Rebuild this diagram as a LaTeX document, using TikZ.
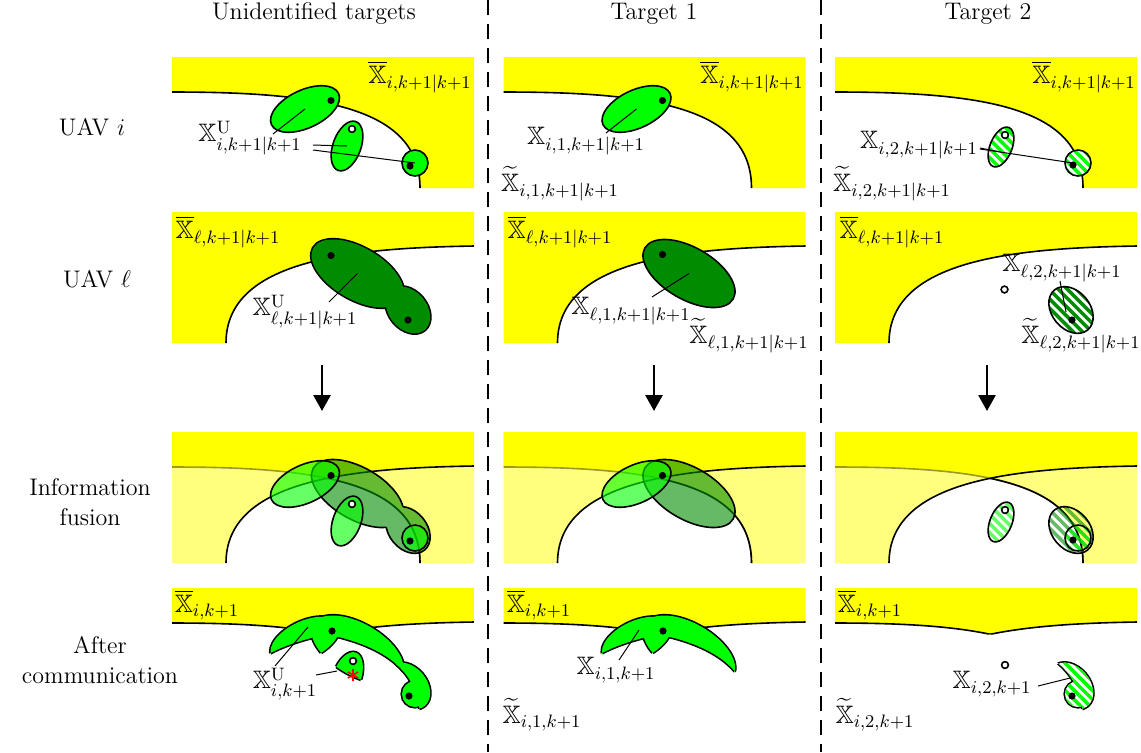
\documentclass[tikz,border=0pt]{standalone}
\usepackage{amssymb}
\usetikzlibrary{arrows.meta}
\definecolor{yel}{RGB}{255,255,0}
\definecolor{lyel}{RGB}{255,255,125}
\definecolor{lg}{RGB}{0,255,0}
\definecolor{dg}{RGB}{0,140,0}
\def\Yone{(0,0) -- (302,0) -- (302,131) -- (248,131) .. controls (248,50) and (148,35) .. (0,35) -- cycle}
\def\Ytwo{(0,0) -- (302,0) -- (302,34) .. controls (178,36) and (54,48) .. (54,131) -- (0,131) -- cycle}
\def\Wtwo{(54,131) .. controls (54,48) and (178,36) .. (302,34) -- (302,140) -- (54,140) -- cycle}
\def\Cone{(0,35) .. controls (148,35) and (248,50) .. (248,131)}
\def\Ctwo{(54,131) .. controls (54,48) and (178,36) .. (302,34)}
\def\Panel{(0,0) rectangle (302,131)}
\def\Big{(-60,-60) rectangle (380,200)}
\def\EOne{(133,52) circle [x radius=37, y radius=19, rotate=25]}
\def\ETwo{(175,89) circle [x radius=26, y radius=14, rotate=70]}
\def\ETwoc{(166,90) circle [x radius=21, y radius=11, rotate=68]}
\def\Circ{(243,106) circle [radius=13]}
\def\BigE{(185.5,61.5) circle [x radius=51, y radius=26, rotate=-30]}
\def\SmallE{(236,98) circle [x radius=26, y radius=19, rotate=-50]}
\newcommand\stripes[3]{\foreach \k in {-14,...,14}{\draw[#3] (#1+\k*9.2-60,#2-60) -- (#1+\k*9.2+60,#2+60);}}
\newcommand\hatchw[4]{\begin{scope}\clip #1;\fill[white] #1;\stripes{#2}{#3}{#4}\end{scope}\draw[ol] #1;}
\newcommand\hatcht[4]{\begin{scope}\clip #1;\stripes{#2}{#3}{#4,opacity=.6}\end{scope}\draw[ol] #1;}
\newcommand\pout[2]{\begin{scope}\clip #2;\draw[ol2] #1;\end{scope}\begin{scope}\clip #1;\draw[ol2] #2;\end{scope}}
\newcommand\pfill[3]{\begin{scope}\clip #1;\fill[#3] #2;\end{scope}}
\newcommand\dotb[2]{\fill (#1,#2) circle [radius=3.6];}
\newcommand\dotw[2]{\draw[line width=0.8pt,fill=white] (#1,#2) circle [radius=3.4];}
\begin{document}
\begin{tikzpicture}[x=0.5pt,y=-0.5pt,
  lab/.style={font=\fontsize{12}{15}\selectfont, inner sep=0pt},
  mlab/.style={font=\fontsize{12.6}{15}\selectfont, inner sep=0pt},
  bd/.style={line width=0.8pt},
  ol/.style={draw=black, line width=0.8pt},
  ol2/.style={draw=black, line width=1.6pt},
  lgf/.style={fill=lg, draw=black, line width=0.8pt},
  dgf/.style={fill=dg, draw=black, line width=0.8pt},
  lgst/.style={draw=lg, line width=1.75pt},
  dgst/.style={draw=dg, line width=1.75pt},
  lead/.style={line width=0.5pt},
  sep/.style={line width=1.3pt, dash pattern=on 7.5pt off 4.5pt},
  arr/.style={line width=1.4pt, -{Triangle[length=8pt,width=8.5pt]}}]
\useasboundingbox (0,0) rectangle (1141,752);
% headers and row labels
\node[lab] (h1) at (314,14) {Unidentified targets};
\node[lab] (h2) at (654,14) {Target 1};
\node[lab] (h3) at (988,14) {Target 2};
\node[lab] (r1) at (92,127) {UAV $i$};
\node[lab] (r2) at (97,279) {UAV $\ell$};
\node[lab, align=center] (r3) at (90,502) {Information\\fusion};
\node[lab, align=center] (r4) at (100,660) {After\\communication};
% separators
\coordinate (s1a) at (488,0); \coordinate (s1b) at (488,752);
\coordinate (s2a) at (821,0); \coordinate (s2b) at (821,752);
\draw[sep] (s1a) -- (s1b);
\draw[sep] (s2a) -- (s2b);
% arrows
\coordinate (a1s) at (322,365); \coordinate (a1e) at (322,411);
\coordinate (a2s) at (654,365); \coordinate (a2e) at (654,411);
\coordinate (a3s) at (987,365); \coordinate (a3e) at (987,411);
\draw[arr] (a1s) -- (a1e);
\draw[arr] (a2s) -- (a2e);
\draw[arr] (a3s) -- (a3e);

% ===== Row 1 =====
\begin{scope}[shift={(172,57)}]
 \fill[yel] \Yone; \draw[bd] \Cone;
 \path[lgf] \EOne; \path[lgf] \ETwo; \path[lgf] \Circ;
 \dotb{159}{43.5} \dotw{180}{72} \dotb{238}{109}
 \coordinate (c11a) at (133,52); \coordinate (c11b) at (175,89); \coordinate (c11c) at (243,106);
\end{scope}
\begin{scope}[shift={(503.5,57)}]
 \fill[yel] \Yone; \draw[bd] \Cone;
 \path[lgf] \EOne;
 \dotb{159}{43.5}
 \coordinate (c12a) at (133,52);
\end{scope}
\begin{scope}[shift={(835,57)}]
 \fill[yel] \Yone; \draw[bd] \Cone;
 \hatchw{\ETwoc}{200}{100}{lgst}
 \hatchw{\Circ}{200}{100}{lgst}
 \dotw{170}{78} \dotb{238}{108}
 \coordinate (c13a) at (166,95); \coordinate (c13b) at (238,106);
\end{scope}
\node[mlab] (o11) at (420,77) {$\overline{\mathbb{X}}_{i,k+1|k+1}$};
\node[mlab] (o12) at (752,77) {$\overline{\mathbb{X}}_{i,k+1|k+1}$};
\node[mlab] (o13) at (1084,77) {$\overline{\mathbb{X}}_{i,k+1|k+1}$};
\node[mlab] (L11) at (250,138) {$\mathbb{X}^{\mathrm{U}}_{i,k+1|k+1}$};
\coordinate (q11a) at (273,134); \coordinate (q11b) at (313,145); \coordinate (q11c) at (313,150);
\draw[lead] (q11a) -- (c11a); \draw[lead] (q11b) -- (c11b); \draw[lead] (q11c) -- (c11c);
\node[mlab] (L12) at (586,141) {$\mathbb{X}_{i,1,k+1|k+1}$};
\coordinate (q12a) at (606,133);
\draw[lead] (q12a) -- (c12a);
\node[mlab] (T12) at (560,184) {$\widetilde{\mathbb{X}}_{i,1,k+1|k+1}$};
\node[mlab] (L13) at (919,145) {$\mathbb{X}_{i,2,k+1|k+1}$};
\coordinate (q13a) at (980,148); \coordinate (q13b) at (980,149);
\draw[lead] (q13a) -- (c13a); \draw[lead] (q13b) -- (c13b);
\node[mlab] (T13) at (892,184) {$\widetilde{\mathbb{X}}_{i,2,k+1|k+1}$};

% ===== Row 2 =====
\begin{scope}[shift={(172,212)}]
 \fill[yel] \Ytwo; \draw[bd] \Ctwo;
 \draw[ol2] \BigE; \draw[ol2] \SmallE;
 \fill[dg] \BigE \SmallE;
 \dotb{159}{43.5} \dotb{236}{108}
 \coordinate (c21a) at (185.5,61.5);
\end{scope}
\begin{scope}[shift={(503.5,212)}]
 \fill[yel] \Ytwo; \draw[bd] \Ctwo;
 \path[dgf] \BigE;
 \dotb{159}{42.5}
 \coordinate (c22a) at (185.5,61.5);
\end{scope}
\begin{scope}[shift={(835,212)}]
 \fill[yel] \Ytwo; \draw[bd] \Ctwo;
 \hatchw{\SmallE}{200}{100}{dgst}
 \dotw{169.5}{77.5} \dotb{237}{108}
 \coordinate (c23a) at (231,100);
\end{scope}
\node[mlab] (o21) at (228,232) {$\overline{\mathbb{X}}_{\ell,k+1|k+1}$};
\node[mlab] (o22) at (560,232) {$\overline{\mathbb{X}}_{\ell,k+1|k+1}$};
\node[mlab] (o23) at (892,232) {$\overline{\mathbb{X}}_{\ell,k+1|k+1}$};
\node[mlab] (L21) at (305,312) {$\mathbb{X}^{\mathrm{U}}_{\ell,k+1|k+1}$};
\coordinate (q21a) at (329,302);
\draw[lead] (q21a) -- (c21a);
\node[mlab] (L22) at (631,311) {$\mathbb{X}_{\ell,1,k+1|k+1}$};
\coordinate (q22a) at (652,297);
\draw[lead] (q22a) -- (c22a);
\node[mlab] (T22) at (749,336) {$\widetilde{\mathbb{X}}_{\ell,1,k+1|k+1}$};
\node[mlab] (L23) at (1062,268) {$\mathbb{X}_{\ell,2,k+1|k+1}$};
\coordinate (q23a) at (1060,281);
\draw[lead] (q23a) -- (c23a);
\node[mlab] (T23) at (1081,336) {$\widetilde{\mathbb{X}}_{\ell,2,k+1|k+1}$};

% ===== Row 3 =====
\foreach \xo in {172,503.5,835}{
 \begin{scope}[shift={(\xo,432)}]
  \fill[lyel] \Yone; \fill[lyel] \Ytwo;
  \begin{scope}\clip \Yone; \fill[yel] \Ytwo; \end{scope}
  \draw[bd, opacity=.4] \Cone;
  \begin{scope}\clip \Wtwo; \draw[bd] \Cone; \end{scope}
  \draw[bd] \Ctwo;
 \end{scope}}
\begin{scope}[shift={(172,432)}]
 \fill[dg, opacity=.6] \BigE \SmallE;
 \begin{scope}[even odd rule]\clip \Big \SmallE; \draw[ol] \BigE; \end{scope}
 \begin{scope}[even odd rule]\clip \Big \BigE; \draw[ol] \SmallE; \end{scope}
 \fill[lg, opacity=.6] \EOne; \draw[ol] \EOne;
 \fill[lg, opacity=.6] \ETwo; \draw[ol] \ETwo;
 \fill[lg, opacity=.6] \Circ; \draw[ol] \Circ;
 \dotb{159}{43.5} \dotw{180}{72} \dotb{238}{109}
\end{scope}
\begin{scope}[shift={(503.5,432)}]
 \fill[dg, opacity=.6] \BigE; \draw[ol] \BigE;
 \fill[lg, opacity=.6] \EOne; \draw[ol] \EOne;
 \dotb{159}{43.5}
\end{scope}
\begin{scope}[shift={(835,432)}]
 \hatcht{\SmallE}{200}{100}{dgst}
 \hatcht{\ETwoc}{200}{100}{lgst}
 \hatcht{\Circ}{200}{100}{lgst}
 \dotw{170}{78} \dotb{238}{108}
\end{scope}

% ===== Row 4 =====
\foreach \xo in {172,503.5,835}{
 \begin{scope}[shift={(\xo,588)}]
  \begin{scope}\clip \Yone; \fill[yel] \Ytwo; \end{scope}
  \begin{scope}\clip \Ytwo; \draw[bd] \Cone; \end{scope}
  \begin{scope}\clip \Yone; \draw[bd] \Ctwo; \end{scope}
 \end{scope}}
\begin{scope}[shift={(172,588)}]
 \pout{\EOne}{\BigE} \pout{\ETwo}{\BigE} \pout{\Circ}{\SmallE}
 \pout{\EOne}{\Ytwo} \pout{\BigE}{\Yone} \pout{\SmallE}{\Yone}
 \pfill{\EOne}{\BigE}{lg} \pfill{\ETwo}{\BigE}{lg} \pfill{\Circ}{\SmallE}{lg}
 \pfill{\EOne}{\Ytwo}{lg} \pfill{\BigE}{\Yone}{lg} \pfill{\SmallE}{\Yone}{lg}
 \dotb{160}{43} \dotw{181}{73} \dotb{237}{108}
 \draw[red, line width=0.8pt] (181,81) -- (181,93) (175.8,84) -- (186.2,90) (175.8,90) -- (186.2,84);
 \coordinate (c41a) at (136,39); \coordinate (c41b) at (165,83);
\end{scope}
\begin{scope}[shift={(503.5,588)}]
 \pout{\EOne}{\BigE} \pout{\EOne}{\Ytwo} \pout{\BigE}{\Yone}
 \pfill{\EOne}{\BigE}{lg} \pfill{\EOne}{\Ytwo}{lg} \pfill{\BigE}{\Yone}{lg}
 \dotb{159.5}{43}
 \coordinate (c42a) at (135.5,42);
\end{scope}
\begin{scope}[shift={(835,588)}]
 \pout{\Circ}{\SmallE} \pout{\SmallE}{\Yone}
 \begin{scope}\clip \Circ; \clip \SmallE; \fill[white] \Panel; \stripes{200}{100}{lgst} \end{scope}
 \begin{scope}\clip \SmallE; \clip \Yone; \fill[white] \Panel; \stripes{200}{100}{lgst} \end{scope}
 \dotw{170}{77} \dotb{237}{108}
 \coordinate (c43a) at (235,90);
\end{scope}
\node[mlab] (o41) at (207,605) {$\overline{\mathbb{X}}_{i,k+1}$};
\node[mlab] (o42) at (539,605) {$\overline{\mathbb{X}}_{i,k+1}$};
\node[mlab] (o43) at (870,605) {$\overline{\mathbb{X}}_{i,k+1}$};
\node[mlab] (L41) at (285,684) {$\mathbb{X}^{\mathrm{U}}_{i,k+1}$};
\coordinate (q41a) at (275,666); \coordinate (q41b) at (316,675);
\draw[lead] (q41a) -- (c41a); \draw[lead] (q41b) -- (c41b);
\node[mlab] (L42) at (616,670) {$\mathbb{X}_{i,1,k+1}$};
\coordinate (q42a) at (619,660);
\draw[lead] (q42a) -- (c42a);
\node[mlab] (T42) at (542,715) {$\widetilde{\mathbb{X}}_{i,1,k+1}$};
\node[mlab] (L43) at (992,684) {$\mathbb{X}_{i,2,k+1}$};
\coordinate (q43a) at (1038,686);
\draw[lead] (q43a) -- (c43a);
\node[mlab] (T43) at (875,715) {$\widetilde{\mathbb{X}}_{i,2,k+1}$};
\end{tikzpicture}
\end{document}
